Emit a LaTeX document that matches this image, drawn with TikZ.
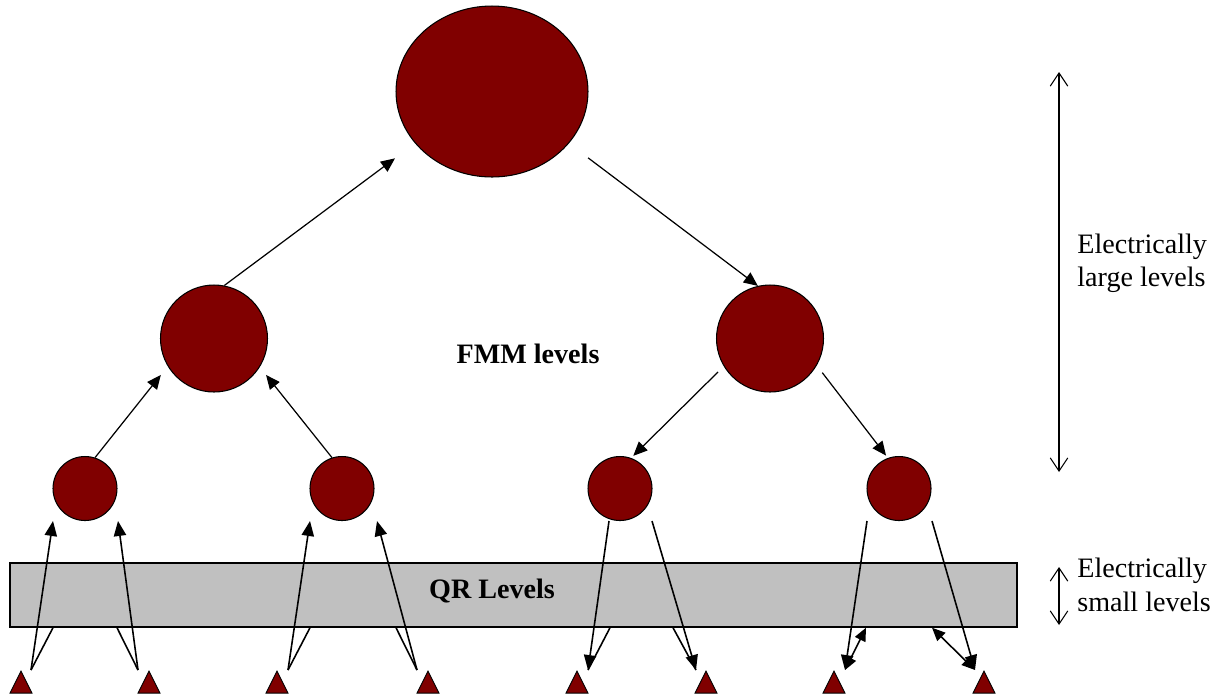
\documentclass[tikz,border=0pt]{standalone}
\usepackage{fontspec}
\setmainfont{Liberation Serif}
\usetikzlibrary{
	arrows.meta,
	shapes.geometric,
	calc
}
\definecolor{cellred}{HTML}{800000}
\definecolor{qrgray}{HTML}{C0C0C0}

\begin{document}
\begin{tikzpicture}
[x=.02cm, y=-.02cm,
 font=\fontsize{16}{19}\selectfont,
 cell/.style={circle, draw, fill=cellred, line width=.6pt, inner sep=0pt},
 src/.style={isosceles triangle, shape border rotate=90, isosceles triangle stretches,
  draw, fill=cellred, line width=.5pt, inner sep=0pt, minimum width=.44cm, minimum height=.44cm, anchor=apex},
 arr/.style={-{Triangle[length=8pt,width=7pt]}, line width=.7pt},
 arrb/.style={-{Triangle[length=8.5pt,width=7pt]}, line width=.9pt},
 fan/.style={line width=.9pt},
 dblarr/.style={{Triangle[length=7.5pt,width=6.5pt]}-{Triangle[length=7.5pt,width=6.5pt]}, line width=.9pt},
 span/.style={{Straight Barb[length=7.5pt,width=10pt]}-{Straight Barb[length=7.5pt,width=10pt]}, line width=.6pt}]
\useasboundingbox (0,0) rectangle (1229,698);
\def\ty{670}
\def\uy{521}
\def\ly{488.5}

\node[fill=qrgray, draw, line width=.8pt, inner sep=0pt, minimum width=20.14cm, minimum height=1.28cm] (band) at (513.5,595) {};
\node[font=\fontsize{16}{19}\selectfont\bfseries] (qr) at (492,591) {QR Levels};
\node[font=\fontsize{16}{19}\selectfont\bfseries] (fmm) at (528,354) {FMM levels};

\node[cell, ellipse, minimum width=3.84cm, minimum height=3.42cm] (root) at (492,91.5) {};
\node[cell, minimum size=2.14cm] (l2a) at (214,338.5) {};
\node[cell, minimum size=2.14cm] (l2b) at (770,338.5) {};
\node[cell, minimum size=1.28cm] (l3a) at (85,\ly) {};
\node[cell, minimum size=1.28cm] (l3b) at (342,\ly) {};
\node[cell, minimum size=1.28cm] (l3c) at (620,\ly) {};
\node[cell, minimum size=1.28cm] (l3d) at (899,\ly) {};

\node[src] (t1) at (21,\ty) {};
\node[src] (t2) at (149,\ty) {};
\node[src] (t3) at (277,\ty) {};
\node[src] (t4) at (428,\ty) {};
\node[src] (t5) at (577,\ty) {};
\node[src] (t6) at (706,\ty) {};
\node[src] (t7) at (834,\ty) {};
\node[src] (t8) at (984,\ty) {};

\draw[arr, shorten >=.5cm] (l2a.79) -- (root.214);
\draw[arr, shorten <=.48cm] (root.326) -- (l2b.103);
\draw[arr, shorten >=.22cm] (l3a.72) -- (l2a.211);
\draw[arr, shorten >=.2cm] (l3b.108) -- (l2a.328);
\draw[arr, shorten <=.16cm, shorten >=.06cm] (l2b.211) -- (l3c.70);
\draw[arr, shorten <=.18cm, shorten >=.06cm] (l2b.330) -- (l3d.110);

\coordinate (f1) at (31,\ty);  \coordinate (u1) at (53,\uy);
\coordinate (f2) at (138,\ty); \coordinate (u2) at (118,\uy);
\coordinate (f3) at (288,\ty); \coordinate (u3) at (310,\uy);
\coordinate (f4) at (417,\ty); \coordinate (u4) at (377,\uy);
\coordinate (f5) at (588,\ty); \coordinate (u5) at (609,\uy);
\coordinate (f6) at (696,\ty); \coordinate (u6) at (652,\uy);
\coordinate (f7) at (845,\ty); \coordinate (u7) at (867,\uy);
\coordinate (f8) at (975,\ty); \coordinate (u8) at (932,\uy);

\draw[arrb] (f1) -- (u1);
\draw[fan] (f1) -- (53,0 |- band.south);
\draw[arrb] (f2) -- (u2);
\draw[fan] (f2) -- (117,0 |- band.south);
\draw[arrb] (f3) -- (u3);
\draw[fan] (f3) -- (310,0 |- band.south);
\draw[arrb] (f4) -- (u4);
\draw[fan] (f4) -- (396,0 |- band.south);
\draw[arrb] (u5) -- (f5);
\draw[fan] (f5) -- (610,0 |- band.south);
\draw[arrb] (u6) -- (f6);
\draw[fan] (f6) -- (673,0 |- band.south);
\draw[arrb] (u7) -- (f7);
\draw[dblarr] (f7) -- (866,0 |- band.south);
\draw[arrb] (u8) -- (f8);
\draw[dblarr] (f8) -- (932,0 |- band.south);

\coordinate (lt) at (1059,72);
\coordinate (lb) at (1059,472);
\coordinate (st) at (1059,567);
\coordinate (sb) at (1059,625);
\draw[span] (lt) -- (lb);
\draw[span] (st) -- (sb);
\node[anchor=west, align=left, inner sep=0pt] (large) at (1077,263) {Electrically\\large levels};
\node[anchor=west, align=left, inner sep=0pt] (small) at (1077,585) {Electrically\\small levels};
\end{tikzpicture}
\end{document}
